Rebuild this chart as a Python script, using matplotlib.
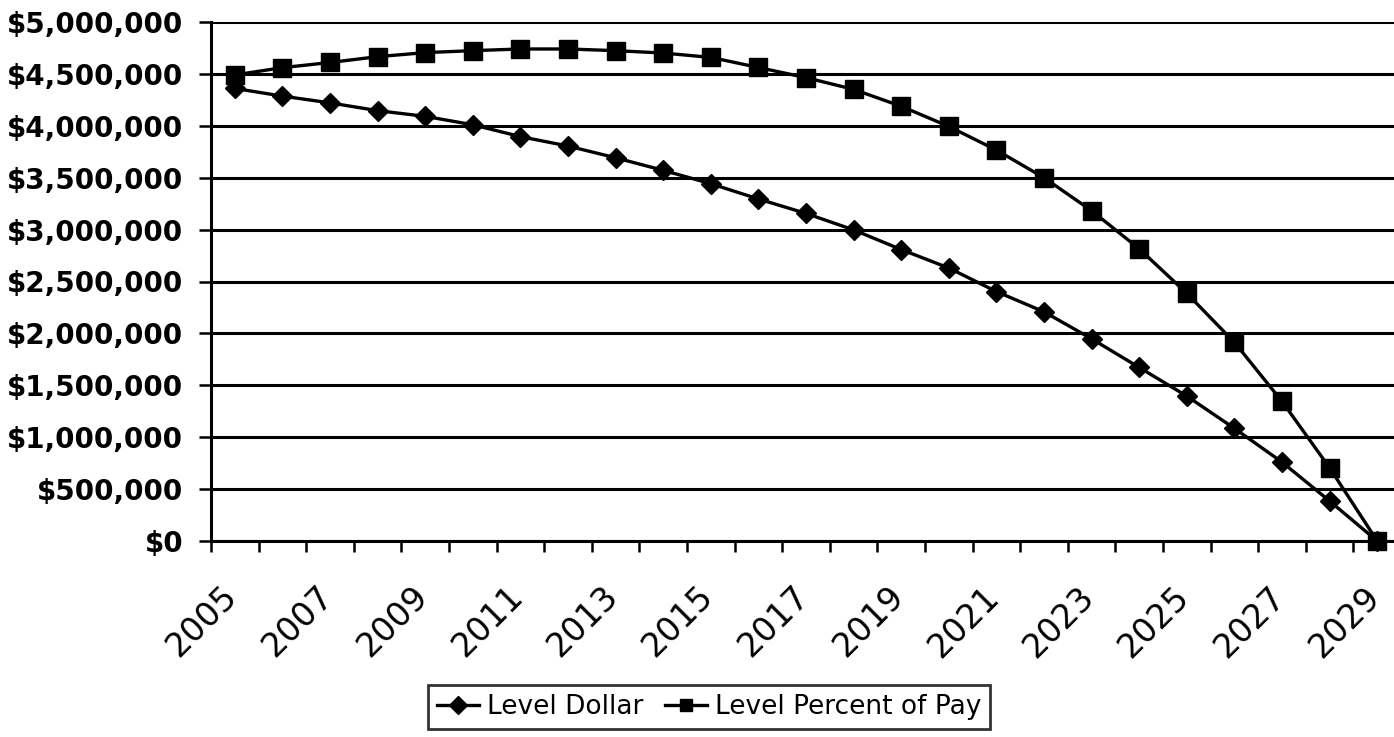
import numpy as np
import matplotlib
matplotlib.use("Agg")
import matplotlib.pyplot as plt
import matplotlib.transforms as mtransforms
from matplotlib.ticker import FuncFormatter, FixedLocator

# values (dollars)
years = list(range(2005, 2030))
level_dollar = [4360000, 4286000, 4221000, 4146000, 4091000,
                4010000, 3896000, 3805000, 3692000, 3571000,
                3442000, 3295000, 3156000, 2997000, 2808000,
                2630000, 2403000, 2208000, 1948000, 1672000,
                1396000, 1085000, 760000, 385000, 0]
level_pct_pay = [4490000, 4560000, 4610000, 4666000, 4705000,
                 4724000, 4740000, 4740000, 4724000, 4701000,
                 4659000, 4562000, 4464000, 4351000, 4188000,
                 3994000, 3766000, 3500000, 3182000, 2815000,
                 2386000, 1914000, 1345000, 705000, 0]
y_ticks = [0, 500000, 1000000, 1500000, 2000000, 2500000,
           3000000, 3500000, 4000000, 4500000, 5000000]

W, H = 1394, 737
fig = plt.figure(figsize=(W / 100, H / 100), dpi=100)
ax = fig.add_axes([211 / W, (H - 541) / H, 1190 / W, 519 / H])

x = np.arange(len(years))
ax.plot(x, level_dollar, color="black", lw=2.4, marker="D", ms=10,
        label="Level Dollar", clip_on=False, zorder=3)
ax.plot(x, level_pct_pay, color="black", lw=2.4, marker="s", ms=13.5,
        label="Level Percent of Pay", clip_on=False, zorder=3)

ax.set_xlim(-0.5, len(years) - 0.5)
ax.set_ylim(0, 5000000)

# y axis
ax.set_yticks(y_ticks)
ax.yaxis.set_major_formatter(FuncFormatter(lambda v, p: f"${v:,.0f}"))
ax.grid(axis="y", color="black", lw=2.2)
ax.set_axisbelow(True)
ax.tick_params(axis="y", length=9, width=1.8, pad=11, direction="out")
for t in ax.get_yticklabels():
    t.set_fontsize(20)
    t.set_fontweight("bold")
    t.set_family("DejaVu Sans")

# x axis: ticks between categories, labels on every other year
ax.xaxis.set_major_locator(FixedLocator(np.arange(-0.5, len(years), 1.0)))
ax.xaxis.set_minor_locator(FixedLocator(x[::2]))
ax.xaxis.set_major_formatter(FuncFormatter(lambda v, p: ""))
ax.set_xticklabels([str(y) for y in years[::2]], minor=True)
ax.tick_params(axis="x", which="major", length=8, width=1.8, direction="out")
ax.tick_params(axis="x", which="minor", length=0, pad=28)
shift = mtransforms.ScaledTranslation(-14 / 100, 0, fig.dpi_scale_trans)
for t in ax.get_xticklabels(minor=True):
    t.set_rotation(45)
    t.set_ha("right")
    t.set_va("top")
    t.set_rotation_mode("anchor")
    t.set_fontsize(24)
    t.set_family("DejaVu Sans")
    t.set_transform(t.get_transform() + shift)

for s in ["top", "right"]:
    ax.spines[s].set_visible(False)
for s in ["left", "bottom"]:
    ax.spines[s].set_linewidth(2.2)

leg = fig.legend(loc="center", bbox_to_anchor=(709 / W, 1 - 707 / H), ncol=2,
                 frameon=True, fancybox=False, edgecolor="black",
                 handlelength=1.6, handletextpad=0.3, columnspacing=0.8,
                 borderpad=0.35, prop={"family": "DejaVu Sans", "size": 19})
leg.get_frame().set_linewidth(2)
for h in leg.legend_handles:
    h.set_markersize(9)

fig.savefig("out.png", dpi=100)
